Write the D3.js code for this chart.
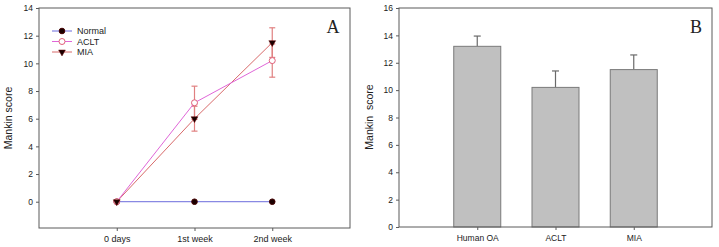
<!DOCTYPE html>
<html>
<head>
<meta charset="utf-8">
<script src="https://cdn.jsdelivr.net/npm/d3@7"></script>
<style>
	body { margin: 0; background: #fff; }
	svg text { font-family: "Liberation Sans", Arial, sans-serif; fill: #222; }
	.panel-letter { font-family: "Liberation Serif", "Times New Roman", serif; font-size: 18px; }
</style>
</head>
<body>
<svg id="chart" width="719" height="247"></svg>
<script>

// Panel A: time course
const timepoints = ["0 days", "1st week", "2nd week"];
const normal_values = [0, 0, 0];
const aclt_values = [0, 7.15, 10.2];
const aclt_errors = [0, 1.2, 1.2];
const mia_values = [0, 6.0, 11.5];
const mia_errors = [0, 0.9, 1.07];
const legend_labels = ["Normal", "ACLT", "MIA"];

// Panel B: group means
const groups = ["Human OA", "ACLT", "MIA"];
const group_values = [13.2, 10.2, 11.5];
const group_errors = [0.75, 1.2, 1.07];

const ticks_A = [0, 2, 4, 6, 8, 10, 12, 14];
const ticks_B = [0, 2, 4, 6, 8, 10, 12, 14, 16];

const svg = d3.select("#chart");
const axis_color = "#5a5a5a";

function styleAxis(g, size) {
	g.selectAll("path, line").attr("stroke", axis_color);
	g.selectAll("text").attr("font-size", size).attr("fill", "#222");
	g.select(".domain").remove();
}

function drawFrame(x0, x1, y0, y1) {
	svg.append("rect")
		.attr("x", x0).attr("y", y0)
		.attr("width", x1 - x0).attr("height", y1 - y0)
		.attr("fill", "none")
		.attr("stroke", axis_color)
		.attr("stroke-width", 1);
}

// ---------- Panel A ----------
const xA = d3.scaleLinear().domain([-1, 3]).range([39, 350]);
const yA = d3.scaleLinear().domain([-1.9, 14]).range([228, 8]);

svg.append("g")
	.attr("transform", "translate(39,0)")
	.call(d3.axisLeft(yA).tickValues(ticks_A).tickSize(3).tickPadding(3))
	.call(g => styleAxis(g, "8.5px"));

svg.append("g")
	.attr("transform", "translate(0,228)")
	.call(d3.axisBottom(xA).tickValues([0, 1, 2]).tickFormat(i => timepoints[i]).tickSize(3).tickPadding(5))
	.call(g => styleAxis(g, "9px"));

drawFrame(39, 350, 8, 228);

const lineA = d3.line().x((d, i) => xA(i)).y(d => yA(d));

const series = [
	{name: "Normal", values: normal_values, errors: null, line: "#6b6bdc", marker: "circle"},
	{name: "ACLT", values: aclt_values, errors: aclt_errors, line: "#e066d8", marker: "open"},
	{name: "MIA", values: mia_values, errors: mia_errors, line: "#d86a6a", marker: "tri"}
];

// error bars
series.filter(s => s.errors).forEach(s => {
	const eb = svg.append("g").attr("stroke", "#e08080").attr("stroke-width", 1.2);
	s.values.forEach((v, i) => {
		if (!s.errors[i]) return;
		const cx = xA(i);
		eb.append("line").attr("x1", cx).attr("x2", cx)
			.attr("y1", yA(v - s.errors[i])).attr("y2", yA(v + s.errors[i]));
		[v - s.errors[i], v + s.errors[i]].forEach(e => {
			eb.append("line").attr("x1", cx - 3).attr("x2", cx + 3)
				.attr("y1", yA(e)).attr("y2", yA(e));
		});
	});
});

function drawMarker(g, type, cx, cy) {
	if (type === "circle") {
		g.append("circle").attr("cx", cx).attr("cy", cy).attr("r", 2.8)
			.attr("fill", "#1a0000").attr("stroke", "#400");
	} else if (type === "open") {
		g.append("circle").attr("cx", cx).attr("cy", cy).attr("r", 3)
			.attr("fill", "#fff").attr("stroke", "#e0607a").attr("stroke-width", 1);
	} else {
		g.append("path")
			.attr("d", d3.symbol(d3.symbolTriangle, 20)())
			.attr("transform", "translate(" + cx + "," + cy + ") rotate(180)")
			.attr("fill", "#1a0000").attr("stroke", "#600").attr("stroke-width", 0.5);
	}
}

// lines, drawn back to front
[series[0], series[2], series[1]].forEach(s => {
	svg.append("path")
		.datum(s.values)
		.attr("d", lineA)
		.attr("fill", "none")
		.attr("stroke", s.line)
		.attr("stroke-width", 1);
});

const markers = svg.append("g");
[series[0], series[1], series[2]].forEach(s => {
	s.values.forEach((v, i) => drawMarker(markers, s.marker, xA(i), yA(v)));
});

// legend
const legend = svg.append("g");
legend_labels.forEach((label, i) => {
	const s = series[i];
	const ly = 31 + i * 10.5;
	legend.append("line").attr("x1", 52).attr("x2", 72).attr("y1", ly).attr("y2", ly)
		.attr("stroke", s.line).attr("stroke-width", 1);
	drawMarker(legend, s.marker, 62, ly);
	legend.append("text").attr("x", 77).attr("y", ly + 3.2).attr("font-size", "9px").text(label);
});

svg.append("text")
	.attr("class", "panel-letter")
	.attr("x", 333).attr("y", 33)
	.attr("text-anchor", "middle")
	.text("A");

svg.append("text")
	.attr("transform", "translate(12,118) rotate(-90)")
	.attr("text-anchor", "middle")
	.attr("font-size", "10.5px")
	.text("Mankin score");

// ---------- Panel B ----------
const xB = d3.scaleLinear().domain([-1, 3]).range([399, 712]);
const yB = d3.scaleLinear().domain([0, 16]).range([227, 8]);
const bar_w = 47;

svg.append("g")
	.attr("transform", "translate(399,0)")
	.call(d3.axisLeft(yB).tickValues(ticks_B).tickSize(3).tickPadding(3))
	.call(g => styleAxis(g, "8.5px"));

svg.append("g")
	.attr("transform", "translate(0,227)")
	.call(d3.axisBottom(xB).tickValues([0, 1, 2]).tickFormat(i => groups[i]).tickSize(3).tickPadding(5))
	.call(g => styleAxis(g, "8.5px"));

// error bars (upper only)
const ebB = svg.append("g").attr("stroke", "#6a6a6a").attr("stroke-width", 1.2);
group_values.forEach((v, i) => {
	const cx = xB(i);
	ebB.append("line").attr("x1", cx).attr("x2", cx)
		.attr("y1", yB(v)).attr("y2", yB(v + group_errors[i]));
	ebB.append("line").attr("x1", cx - 3.5).attr("x2", cx + 3.5)
		.attr("y1", yB(v + group_errors[i])).attr("y2", yB(v + group_errors[i]));
});

svg.selectAll(".bar")
	.data(group_values)
	.enter()
	.append("rect")
	.attr("class", "bar")
	.attr("x", (d, i) => xB(i) - bar_w / 2)
	.attr("y", d => yB(d))
	.attr("width", bar_w)
	.attr("height", d => yB(0) - yB(d))
	.attr("fill", "#c0c0c0")
	.attr("stroke", "#7a7a7a")
	.attr("stroke-width", 1);

drawFrame(399, 712, 8, 227);

svg.append("text")
	.attr("class", "panel-letter")
	.attr("x", 696).attr("y", 33)
	.attr("text-anchor", "middle")
	.text("B");

svg.append("text")
	.attr("transform", "translate(373,117) rotate(-90)")
	.attr("text-anchor", "middle")
	.attr("font-size", "10.5px")
	.text("Mankin\u00a0\u00a0score");

</script>
</body>
</html>
